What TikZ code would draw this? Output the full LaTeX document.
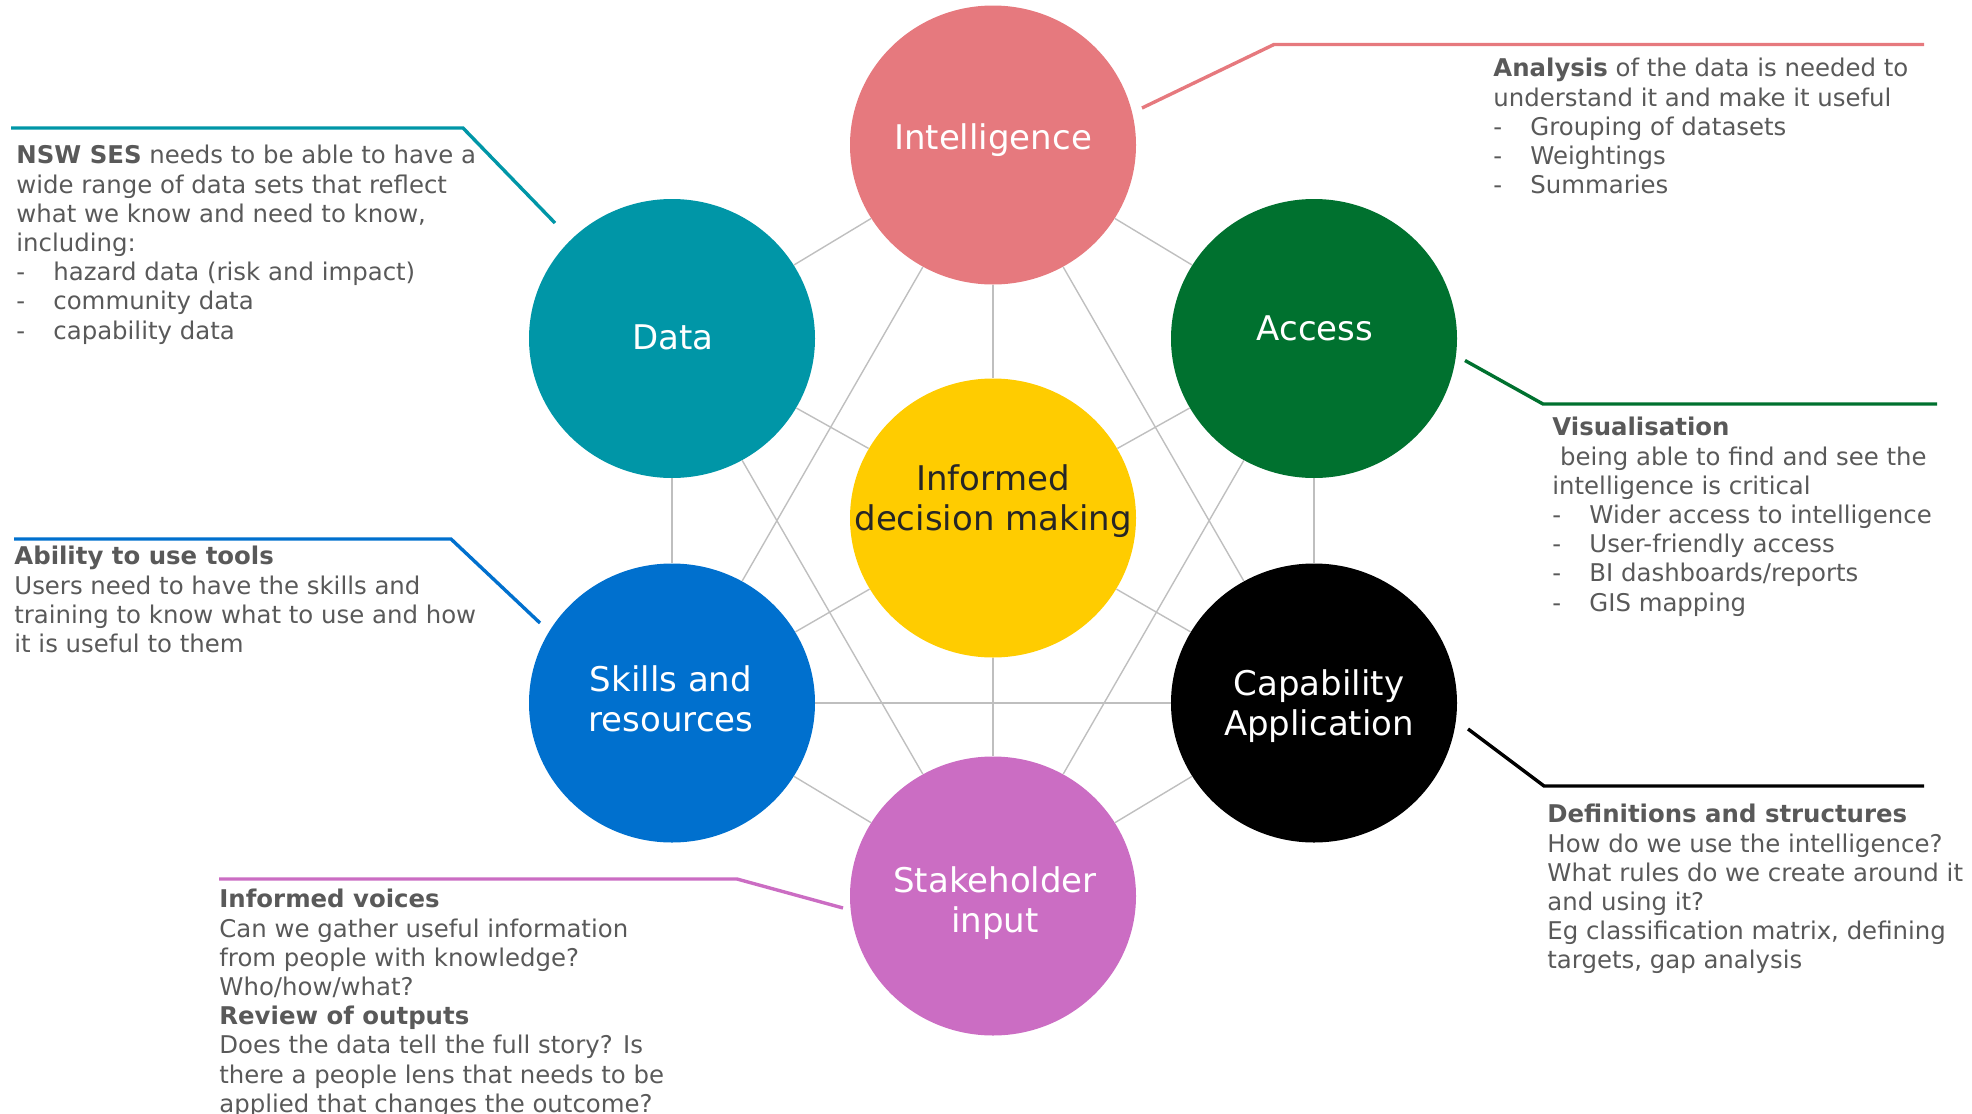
\documentclass[tikz,border=0pt]{standalone}
\usepackage{fontspec}
\setmainfont{DejaVu Sans}
\usetikzlibrary{shapes.geometric}
\definecolor{cIntel}{HTML}{E6797E}
\definecolor{cData}{HTML}{0096A7}
\definecolor{cAccess}{HTML}{00712F}
\definecolor{cInf}{HTML}{FFCC00}
\definecolor{cSkills}{HTML}{0070CE}
\definecolor{cCap}{HTML}{000000}
\definecolor{cStake}{HTML}{CB6DC3}
\definecolor{cText}{HTML}{595959}
\definecolor{cDark}{HTML}{262626}
\definecolor{cLink}{HTML}{BFBFBF}
\newcommand\dashitem[1]{\makebox[18.5pt][l]{-}#1}
\begin{document}
\begin{tikzpicture}[x=0.5pt,y=-0.5pt,
 circ/.style={ellipse, minimum width=143pt, minimum height=139.5pt, inner sep=0pt, draw=none},
 lbl/.style={text=white, font=\fontsize{17}{20.3}\selectfont, align=center, inner sep=0pt},
 link/.style={draw=cLink, line width=0.7pt},
 callout/.style={line width=1.7pt},
 body/.style={text=cText, font=\fontsize{12.2}{14.6}\selectfont, align=left, inner sep=0pt, anchor=north west},
]
\useasboundingbox (0,0) rectangle (1972,1114);

% circles
\node[circ, fill=cIntel]  (intel) at (993,145) {};
\node[circ, fill=cData]   (data)  at (672,338.5) {};
\node[circ, fill=cAccess] (acc)   at (1314,338.5) {};
\node[circ, fill=cInf]    (inf)   at (993,518) {};
\node[circ, fill=cSkills] (skl)   at (672,703) {};
\node[circ, fill=cCap]    (cap)   at (1314,703) {};
\node[circ, fill=cStake]  (stk)   at (993,896) {};

% links
\draw[link] (intel) -- (data);
\draw[link] (intel) -- (acc);
\draw[link] (intel) -- (inf);
\draw[link] (intel) -- (skl);
\draw[link] (intel) -- (cap);
\draw[link] (data) -- (inf);
\draw[link] (data) -- (skl);
\draw[link] (data) -- (stk);
\draw[link] (acc) -- (inf);
\draw[link] (acc) -- (cap);
\draw[link] (acc) -- (stk);
\draw[link] (inf) -- (skl);
\draw[link] (inf) -- (cap);
\draw[link] (inf) -- (stk);
\draw[link] (skl) -- (cap);
\draw[link] (skl) -- (stk);
\draw[link] (cap) -- (stk);

% labels
\node[lbl] (lintel) at (993,140) {Intelligence};
\node[lbl] (ldata)  at (673,337) {Data};
\node[lbl] (lacc)   at (1315,328) {Access};
\node[lbl, text=cDark] (linf) at (993,501) {Informed\\decision making};
\node[lbl] (lskl)   at (671,699) {Skills and\\resources};
\node[lbl] (lcap)   at (1319,706) {Capability\\Application};
\node[lbl] (lstk)   at (995,903) {Stakeholder\\input};

% callout lines
\coordinate (d1) at (11,128);   \coordinate (d2) at (463,128);   \coordinate (d3) at (555,223);
\draw[callout, cData] (d1) -- (d2) -- (d3);
\coordinate (i1) at (1142,108); \coordinate (i2) at (1274,44.5); \coordinate (i3) at (1924,44.5);
\draw[callout, cIntel] (i1) -- (i2) -- (i3);
\coordinate (a1) at (1465,360.5); \coordinate (a2) at (1543,404); \coordinate (a3) at (1937,404);
\draw[callout, cAccess] (a1) -- (a2) -- (a3);
\coordinate (c1) at (1468,729); \coordinate (c2) at (1544,786); \coordinate (c3) at (1924,786);
\draw[callout, cCap] (c1) -- (c2) -- (c3);
\coordinate (s1) at (14,539); \coordinate (s2) at (451,539); \coordinate (s3) at (540,623);
\draw[callout, cSkills] (s1) -- (s2) -- (s3);
\coordinate (k1) at (219,879); \coordinate (k2) at (737,879); \coordinate (k3) at (843,908);
\draw[callout, cStake] (k1) -- (k2) -- (k3);

% texts
\node[body] (tdata) at (16,145) {\textbf{NSW SES} needs to be able to have a\\
wide range of data sets that reflect\\
what we know and need to know,\\
including:\\
\dashitem{hazard data (risk and impact)}\\
\dashitem{community data}\\
\dashitem{capability data}};

\node[body] (tintel) at (1493,58) {\textbf{Analysis} of the data is needed to\\
understand it and make it useful\\
\dashitem{Grouping of datasets}\\
\dashitem{Weightings}\\
\dashitem{Summaries}};

\node[body] (tacc) at (1552,417) {\textbf{Visualisation}\\
\ being able to find and see the\\
intelligence is critical\\
\dashitem{Wider access to intelligence}\\
\dashitem{User-friendly access}\\
\dashitem{BI dashboards/reports}\\
\dashitem{GIS mapping}};

\node[body] (tcap) at (1547,804) {\textbf{Definitions and structures}\\
How do we use the intelligence?\\
What rules do we create around it\\
and using it?\\
Eg classification matrix, defining\\
targets, gap analysis};

\node[body] (tskl) at (14,546) {\textbf{Ability to use tools}\\
Users need to have the skills and\\
training to know what to use and how\\
it is useful to them};

\node[body] (tstk) at (219,889) {\textbf{Informed voices}\\
Can we gather useful information\\
from people with knowledge?\\
Who/how/what?\\
\textbf{Review of outputs}\\
Does the data tell the full story? Is\\
there a people lens that needs to be\\
applied that changes the outcome?};
\end{tikzpicture}
\end{document}
